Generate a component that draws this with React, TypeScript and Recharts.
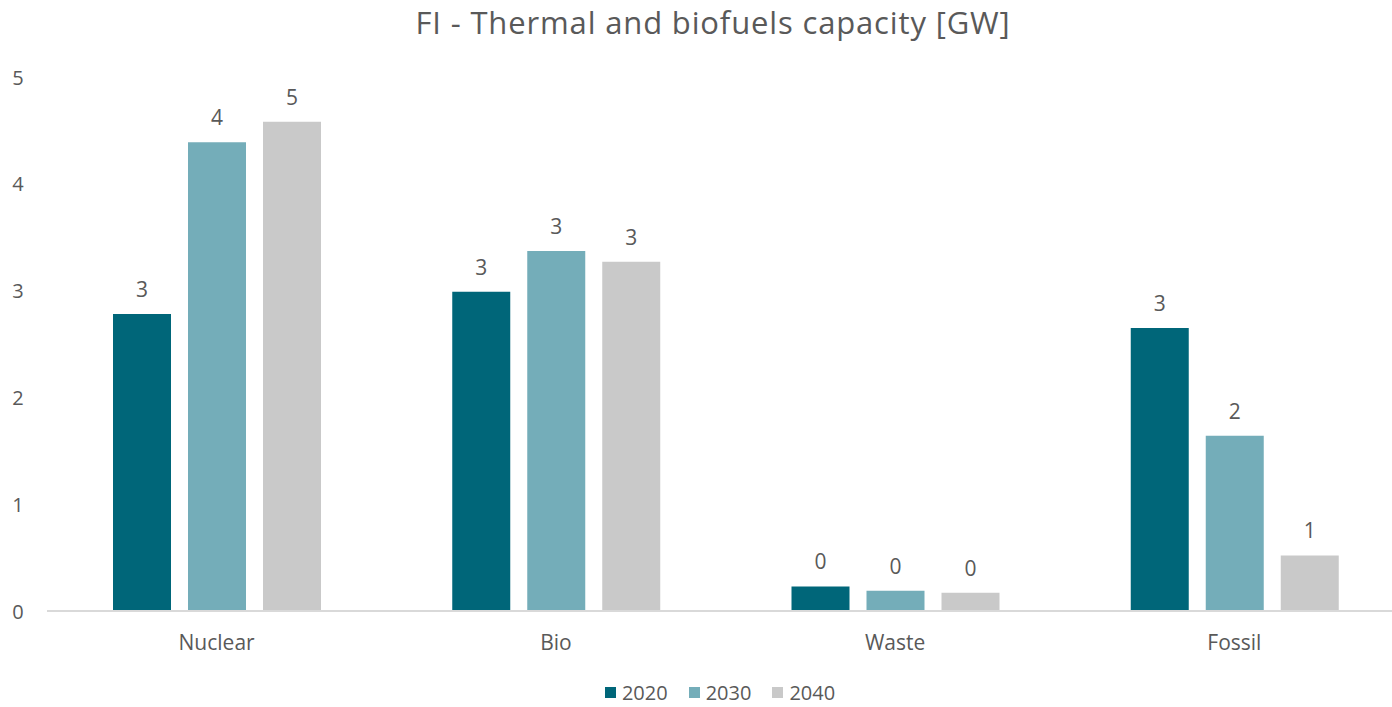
import React from 'react';
import { BarChart, Bar, XAxis, YAxis, Legend, LabelList } from 'recharts';

const categories = ['Nuclear', 'Bio', 'Waste', 'Fossil'];
const values2020 = [2.78, 2.99, 0.23, 2.65];
const values2030 = [4.39, 3.37, 0.19, 1.64];
const values2040 = [4.58, 3.27, 0.17, 0.52];
const yTicks = [0, 1, 2, 3, 4, 5];

const seriesKeys = ['2020', '2030', '2040'];
const seriesColors = ['#006679', '#74ADB9', '#C9C9C9'];

const data = categories.map((name, i) => ({
  name,
  '2020': values2020[i],
  '2030': values2030[i],
  '2040': values2040[i],
}));

const FONT = '"Open Sans", "Noto Sans", sans-serif';
const TEXT = '#595959';

const YTick = (props: any) => {
  const { y, payload } = props;
  return (
    <text x={18} y={y} textAnchor="middle" dominantBaseline="central" fill={TEXT} fontSize={20} fontFamily={FONT}>
      {payload.value}
    </text>
  );
};

const LegendContent = () => (
  <div
    style={{
      display: 'flex',
      justifyContent: 'center',
      alignItems: 'center',
      fontFamily: FONT,
      fontSize: 20,
      lineHeight: '27px',
      color: TEXT,
      paddingTop: 28,
    }}
  >
    {seriesKeys.map((k, i) => (
      <div key={k} style={{ display: 'flex', alignItems: 'center', marginRight: i < seriesKeys.length - 1 ? 21 : 0 }}>
        <span style={{ display: 'block', width: 11, height: 11, backgroundColor: seriesColors[i], marginRight: 6 }} />
        <span>{k}</span>
      </div>
    ))}
  </div>
);

const App: React.FC = () => {
  return (
    <div style={{ position: 'relative', width: 1392, height: 707, overflow: 'hidden', background: '#fff' }}>
      <style>{`body{margin:0;}`}</style>
      <div
        style={{
          position: 'absolute',
          left: 0,
          width: 1426,
          top: 2,
          textAlign: 'center',
          fontFamily: FONT,
          fontSize: 31,
          letterSpacing: 0.85,
          color: TEXT,
          lineHeight: '40px',
        }}
      >
        FI - Thermal and biofuels capacity [GW]
      </div>
      <BarChart
        width={1430}
        height={707}
        data={data}
        margin={{ top: 77, right: 26, left: 0, bottom: 0 }}
        barSize={58}
        barGap={17}
      >
        <YAxis
          width={47}
          domain={[0, 5]}
          ticks={yTicks}
          axisLine={false}
          tickLine={false}
          tick={<YTick />}
          interval={0}
        />
        <XAxis
          dataKey="name"
          height={40}
          axisLine={{ stroke: '#D9D9D9', strokeWidth: 2 }}
          tickLine={false}
          tick={{ fill: TEXT, fontSize: 21, fontFamily: FONT }}
          tickMargin={18}
        />
        <Legend
          verticalAlign="bottom"
          height={56}
          content={<LegendContent />}
          wrapperStyle={{ left: 0, width: 1440, bottom: 0 }}
        />
        {seriesKeys.map((k, i) => (
          <Bar key={k} dataKey={k} fill={seriesColors[i]} isAnimationActive={false}>
            <LabelList
              dataKey={k}
              position="top"
              offset={17}
              formatter={(v: any) => Math.round(Number(v))}
              style={{ fill: TEXT, fontSize: 21, fontFamily: FONT }}
            />
          </Bar>
        ))}
      </BarChart>
    </div>
  );
};

export default App;
